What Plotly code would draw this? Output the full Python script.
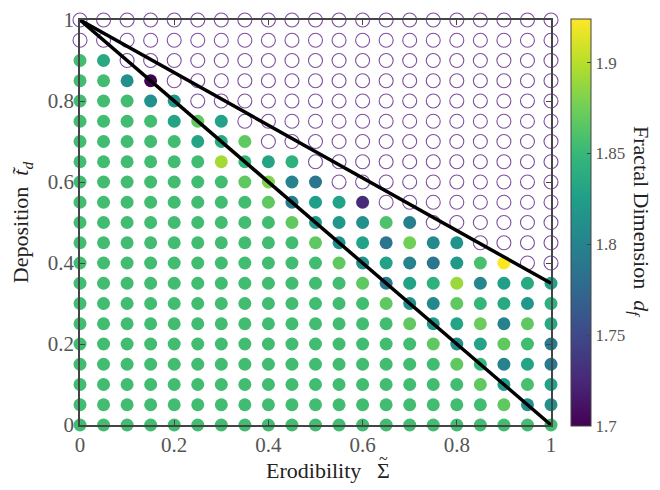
import plotly.graph_objects as go

# Grid of parameter values
erodibility = [round(0.05 * i, 2) for i in range(21)]   # x values 0..1
deposition_levels = [1.00, 0.95, 0.90, 0.85, 0.80, 0.75, 0.70, 0.65, 0.60, 0.55, 0.50,
                     0.45, 0.40, 0.35, 0.30, 0.25, 0.20, 0.15, 0.10, 0.05, 0.00]

N = None
# Fractal dimension per row (None = no fractal / open circle)
row_100 = [N] * 21
row_095 = [N] * 21
row_090 = [1.855, 1.835] + [N] * 19
row_085 = [1.855, 1.855, 1.812, 1.700] + [N] * 17
row_080 = [1.855, 1.855, 1.855, 1.812, 1.817] + [N] * 16
row_075 = [1.855, 1.855, 1.855, 1.855, 1.830, 1.868, 1.828] + [N] * 14
row_070 = [1.855, 1.855, 1.855, 1.855, 1.855, 1.830, 1.835, 1.868] + [N] * 13
row_065 = [1.855, 1.855, 1.855, 1.855, 1.855, 1.855, 1.893, 1.848, 1.830, 1.843] + [N] * 11
row_060 = [1.855, 1.855, 1.855, 1.855, 1.855, 1.855, 1.855, 1.868, 1.880, 1.800, 1.787] + [N] * 10
row_055 = [1.855, 1.855, 1.855, 1.855, 1.855, 1.855, 1.855, 1.855, 1.868, 1.792, 1.825,
           1.828, 1.727] + [N] * 8
row_050 = [1.855, 1.855, 1.855, 1.855, 1.855, 1.855, 1.855, 1.855, 1.855, 1.868, 1.820,
           1.817, 1.812, 1.860, 1.797] + [N] * 6
row_045 = [1.855, 1.855, 1.855, 1.855, 1.855, 1.855, 1.855, 1.855, 1.855, 1.855, 1.868,
           1.812, 1.828, 1.787, 1.875, 1.805, 1.815] + [N] * 4
row_040 = [1.855, 1.855, 1.855, 1.855, 1.855, 1.855, 1.855, 1.855, 1.855, 1.855, 1.855,
           1.868, 1.812, 1.828, 1.800, 1.787, 1.820, 1.858, 1.924, N, N]
row_035 = [1.855, 1.855, 1.855, 1.855, 1.855, 1.855, 1.855, 1.855, 1.855, 1.855, 1.855,
           1.855, 1.868, 1.792, 1.828, 1.843, 1.890, 1.803, 1.826, 1.835, 1.828]
row_030 = [1.855, 1.855, 1.855, 1.855, 1.855, 1.855, 1.855, 1.855, 1.855, 1.855, 1.855,
           1.855, 1.855, 1.868, 1.812, 1.805, 1.868, 1.848, 1.835, 1.817, 1.842]
row_025 = [1.855, 1.855, 1.855, 1.855, 1.855, 1.855, 1.855, 1.855, 1.855, 1.855, 1.855,
           1.855, 1.855, 1.855, 1.868, 1.820, 1.830, 1.872, 1.800, 1.868, 1.835]
row_020 = [1.855, 1.855, 1.855, 1.855, 1.855, 1.855, 1.855, 1.855, 1.855, 1.855, 1.855,
           1.855, 1.855, 1.855, 1.855, 1.868, 1.812, 1.830, 1.868, 1.855, 1.792]
row_015 = [1.855, 1.855, 1.855, 1.855, 1.855, 1.855, 1.855, 1.855, 1.855, 1.855, 1.855,
           1.855, 1.855, 1.855, 1.855, 1.855, 1.868, 1.848, 1.800, 1.830, 1.792]
row_010 = [1.855, 1.855, 1.855, 1.855, 1.855, 1.855, 1.855, 1.855, 1.855, 1.855, 1.855,
           1.855, 1.855, 1.855, 1.855, 1.855, 1.855, 1.868, 1.825, 1.858, 1.828]
row_005 = [1.855, 1.855, 1.855, 1.855, 1.855, 1.855, 1.855, 1.855, 1.855, 1.855, 1.855,
           1.855, 1.855, 1.855, 1.855, 1.855, 1.855, 1.855, 1.868, 1.812, 1.812]
row_000 = [1.855] * 21

rows = [row_100, row_095, row_090, row_085, row_080, row_075, row_070, row_065, row_060,
        row_055, row_050, row_045, row_040, row_035, row_030, row_025, row_020, row_015,
        row_010, row_005, row_000]

# Boundary lines
upper_line_x = [0, 1]
upper_line_y = [1, 0.35]
lower_line_x = [0, 1]
lower_line_y = [1, 0]

axis_ticks = [0, 0.2, 0.4, 0.6, 0.8, 1]
axis_ticktext = ["0", "0.2", "0.4", "0.6", "0.8", "1"]
cbar_ticks = [1.7, 1.75, 1.8, 1.85, 1.9]
cbar_ticktext = ["1.7", "1.75", "1.8", "1.85", "1.9"]
cmin, cmax = 1.7, 1.924

fx, fy, fc, ox, oy = [], [], [], [], []
for yv, row in zip(deposition_levels, rows):
    for xv, d in zip(erodibility, row):
        if d is None:
            ox.append(xv); oy.append(yv)
        else:
            fx.append(xv); fy.append(yv); fc.append(d)

FONT = "Liberation Serif"
AX = "#444444"
TITLE_FONT = dict(family=FONT, size=22, color="#222222")

fig = go.Figure()
fig.add_trace(go.Scatter(
    x=ox, y=oy, mode="markers", cliponaxis=False, showlegend=False,
    marker=dict(symbol="circle-open", size=14, color="#7e4f9e", line=dict(width=1.1)),
))
fig.add_trace(go.Scatter(
    x=fx, y=fy, mode="markers", cliponaxis=False, showlegend=False,
    marker=dict(size=13, color=fc, colorscale="Viridis", cmin=cmin, cmax=cmax,
                line=dict(width=0), showscale=True,
                colorbar=dict(
                    x=1.0425, xanchor="left", xpad=0, ypad=0,
                    y=0.5, yanchor="middle", len=1.005, lenmode="fraction",
                    thickness=20, thicknessmode="pixels",
                    outlinewidth=1, outlinecolor=AX,
                    tickvals=cbar_ticks, ticktext=cbar_ticktext,
                    ticks="inside", ticklen=4, tickcolor=AX,
                    tickfont=dict(family=FONT, size=17, color="#555555"),
                )),
))
fig.add_trace(go.Scatter(x=upper_line_x, y=upper_line_y, mode="lines", cliponaxis=False,
                         showlegend=False, line=dict(color="black", width=3.5)))
fig.add_trace(go.Scatter(x=lower_line_x, y=lower_line_y, mode="lines", cliponaxis=False,
                         showlegend=False, line=dict(color="black", width=3.5)))

axis_common = dict(
    range=[0, 1], showgrid=False, zeroline=False,
    showline=True, linecolor=AX, linewidth=1.5, mirror="ticks",
    ticks="inside", ticklen=5, tickcolor=AX, tickwidth=1.2,
    tickvals=axis_ticks, ticktext=axis_ticktext,
    tickfont=dict(family=FONT, size=21, color="#555555"),
)

fig.update_layout(
    width=652, height=482,
    margin=dict(l=72, r=109, t=12, b=65, autoexpand=False),
    paper_bgcolor="white", plot_bgcolor="white",
    xaxis=dict(**axis_common),
    yaxis=dict(**axis_common,
               title=dict(text="Deposition  <i>t̃</i><sub><i>d</i></sub>", standoff=14,
                          font=TITLE_FONT)),
    annotations=[
        dict(text="Erodibility", xref="paper", yref="paper", x=0.60, y=-0.112,
             xanchor="right", yanchor="middle", showarrow=False, font=TITLE_FONT),
        dict(text="Σ", xref="paper", yref="paper", x=0.644, y=-0.112,
             xanchor="center", yanchor="middle", showarrow=False, font=TITLE_FONT),
        dict(text="~", xref="paper", yref="paper", x=0.644, y=-0.083,
             xanchor="center", yanchor="middle", showarrow=False,
             font=dict(family=FONT, size=16, color="#222222")),
        dict(text="Fractal Dimension  <i>d</i><sub><i>f</i></sub>",
             xref="paper", yref="paper", x=1.19, y=0.5, xanchor="center", yanchor="middle",
             textangle=90, showarrow=False, font=TITLE_FONT),
    ],
)

fig.write_html("out.html")
